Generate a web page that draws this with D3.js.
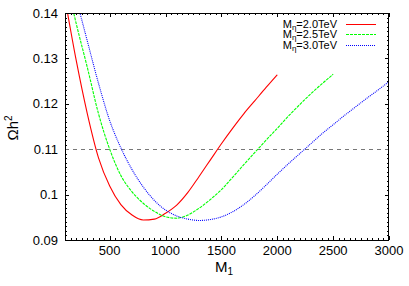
<!DOCTYPE html>
<html>
<head>
<meta charset="utf-8">
<script src="https://cdn.jsdelivr.net/npm/d3@7"></script>
<style>
  html, body { margin: 0; padding: 0; background: #fff; }
  svg { display: block; }
</style>
</head>
<body>
<div id="chart"></div>
<script>
// Relic density vs M1 for three M_eta values
const m1Red = [100, 200, 300, 400, 500, 600, 700, 800, 900, 1000, 1100, 1200, 1300, 1400, 1500, 1600, 1700, 1800, 1900, 2000]
const omegaRed = [0.1432, 0.1296, 0.1178, 0.1081, 0.1019, 0.0978, 0.0955, 0.0944, 0.0946, 0.0959, 0.0977, 0.1005, 0.1040, 0.1076, 0.1112, 0.1146, 0.1178, 0.1207, 0.1236, 0.1264]

const m1Green = [100, 200, 300, 400, 500, 600, 700, 800, 900, 1000, 1100, 1200, 1300, 1400, 1500, 1600, 1700, 1800, 1900, 2000, 2100, 2200, 2300, 2400, 2500]
const omegaGreen = [0.1485, 0.1377, 0.1280, 0.1178, 0.1100, 0.1042, 0.1006, 0.0981, 0.0963, 0.0951, 0.0948, 0.0955, 0.0970, 0.0989, 0.1011, 0.1038, 0.1066, 0.1093, 0.1120, 0.1146, 0.1173, 0.1198, 0.1222, 0.1244, 0.1265]

const m1Blue = [100, 200, 300, 400, 500, 600, 700, 800, 900, 1000, 1100, 1200, 1300, 1400, 1500, 1600, 1700, 1800, 1900, 2000, 2100, 2200, 2300, 2400, 2500, 2600, 2700, 2800, 2900, 3000]
const omegaBlue = [0.1535, 0.1433, 0.1338, 0.1245, 0.1163, 0.1103, 0.1055, 0.1017, 0.0987, 0.0966, 0.0953, 0.0946, 0.0943, 0.0945, 0.0951, 0.0962, 0.0978, 0.0998, 0.1021, 0.1045, 0.1068, 0.1090, 0.1112, 0.1134, 0.1154, 0.1174, 0.1193, 0.1212, 0.1230, 0.1249]

const legendLabels = ['2.0TeV', '2.5TeV', '3.0TeV']
const xTicks = [500, 1000, 1500, 2000, 2500, 3000]
const yTicks = [0.09, 0.10, 0.11, 0.12, 0.13, 0.14]
const yTickLabels = ['0.09', '0.1', '0.11', '0.12', '0.13', '0.14']
const refLine = 0.11

const W = 409, H = 286
const margin = { top: 13, right: 20, bottom: 46, left: 65 }
const font = '"Liberation Sans", Arial, sans-serif'

const svg = d3.select('#chart').append('svg')
  .attr('width', W).attr('height', H)

const x = d3.scaleLinear().domain([100, 3000]).range([margin.left, W - margin.right])
const y = d3.scaleLinear().domain([0.09, 0.14]).range([H - margin.bottom, margin.top])

const x0 = x.range()[0], x1 = x.range()[1]
const y0 = y.range()[0], y1 = y.range()[1]

svg.append('clipPath').attr('id', 'plot-clip')
  .append('rect')
  .attr('x', x0).attr('y', y1)
  .attr('width', x1 - x0).attr('height', y0 - y1)

// ---- ticks (inward, mirrored on all sides) ----
const ticksG = svg.append('g').attr('stroke', '#000').attr('stroke-width', 1)
const xMinor = d3.range(100, 3001, 50)
const yMinor = d3.range(0, 51).map(i => 0.09 + i * 0.001)

xMinor.forEach(v => {
  const major = v % 500 === 0
  const len = major ? 4 : 2
  const px = Math.round(x(v)) + 0.5
  ticksG.append('line').attr('x1', px).attr('x2', px).attr('y1', y0).attr('y2', y0 - len)
  ticksG.append('line').attr('x1', px).attr('x2', px).attr('y1', y1).attr('y2', y1 + len)
})
yMinor.forEach((v, i) => {
  const major = i % 10 === 0
  const len = major ? 4 : 2
  const py = Math.round(y(v)) + 0.5
  ticksG.append('line').attr('x1', x0).attr('x2', x0 + len).attr('y1', py).attr('y2', py)
  ticksG.append('line').attr('x1', x1).attr('x2', x1 - len).attr('y1', py).attr('y2', py)
})

// ---- reference line ----
svg.append('line')
  .attr('x1', x0).attr('x2', x1)
  .attr('y1', Math.round(y(refLine)) + 0.5).attr('y2', Math.round(y(refLine)) + 0.5)
  .attr('stroke', '#777').attr('stroke-width', 1)
  .attr('stroke-dasharray', '4,4')

// ---- curves ----
const line = d3.line()
  .x(d => x(d[0])).y(d => y(d[1]))
  .curve(d3.curveMonotoneX)

const series = [
  { m: m1Red, o: omegaRed, color: '#ff0000', dash: null, label: legendLabels[0] },
  { m: m1Green, o: omegaGreen, color: '#00ff00', dash: '3,1', label: legendLabels[1] },
  { m: m1Blue, o: omegaBlue, color: '#0000ff', dash: '1,1', label: legendLabels[2] },
]

const curvesG = svg.append('g').attr('clip-path', 'url(#plot-clip)')
series.forEach(s => {
  curvesG.append('path')
    .datum(d3.zip(s.m, s.o))
    .attr('d', line)
    .attr('fill', 'none')
    .attr('stroke', s.color)
    .attr('stroke-width', 1.1)
    .attr('stroke-dasharray', s.dash)
})

// ---- frame ----
svg.append('rect')
  .attr('x', x0 + 0.5).attr('y', y1 + 0.5)
  .attr('width', x1 - x0 - 1).attr('height', y0 - y1)
  .attr('fill', 'none').attr('stroke', '#000').attr('stroke-width', 1)

// ---- tick labels ----
svg.append('g').selectAll('text').data(xTicks).join('text')
  .attr('x', d => x(d)).attr('y', y0 + 15)
  .attr('text-anchor', 'middle')
  .attr('font-family', font).attr('font-size', '13px').attr('fill', '#000')
  .text(d => d)

svg.append('g').selectAll('text').data(yTicks).join('text')
  .attr('x', x0 - 7).attr('y', d => y(d) + 4.5)
  .attr('text-anchor', 'end')
  .attr('font-family', font).attr('font-size', '13px').attr('fill', '#000')
  .text((d, i) => yTickLabels[i])

// ---- axis titles ----
const xt = svg.append('text')
  .attr('x', 224).attr('y', 272)
  .attr('text-anchor', 'middle')
  .attr('font-family', font).attr('font-size', '15px').attr('fill', '#000')
xt.append('tspan').text('M')
xt.append('tspan').attr('font-size', '10px').attr('dy', 3).text('1')

const yt = svg.append('text')
  .attr('transform', 'translate(18,128) rotate(-90)')
  .attr('text-anchor', 'middle')
  .attr('font-family', font).attr('font-size', '15px').attr('fill', '#000')
yt.append('tspan').text('Ωh')
yt.append('tspan').attr('font-size', '10px').attr('dy', -6).text('2')

// ---- legend ----
const legendG = svg.append('g')
series.forEach((s, i) => {
  const ly = 23.5 + i * 10.5
  const t = legendG.append('text')
    .attr('x', 337).attr('y', ly + 4)
    .attr('text-anchor', 'end')
    .attr('font-family', font).attr('font-size', '11px').attr('fill', '#000')
  t.append('tspan').text('M')
  t.append('tspan').attr('font-size', '8px').attr('dy', 2).text('η')
  t.append('tspan').attr('dy', -2).text('=' + s.label)
  legendG.append('line')
    .attr('x1', 346).attr('x2', 376)
    .attr('y1', Math.round(ly) + 0.5).attr('y2', Math.round(ly) + 0.5)
    .attr('stroke', s.color).attr('stroke-width', 1)
    .attr('stroke-dasharray', s.dash)
})
</script>
</body>
</html>
